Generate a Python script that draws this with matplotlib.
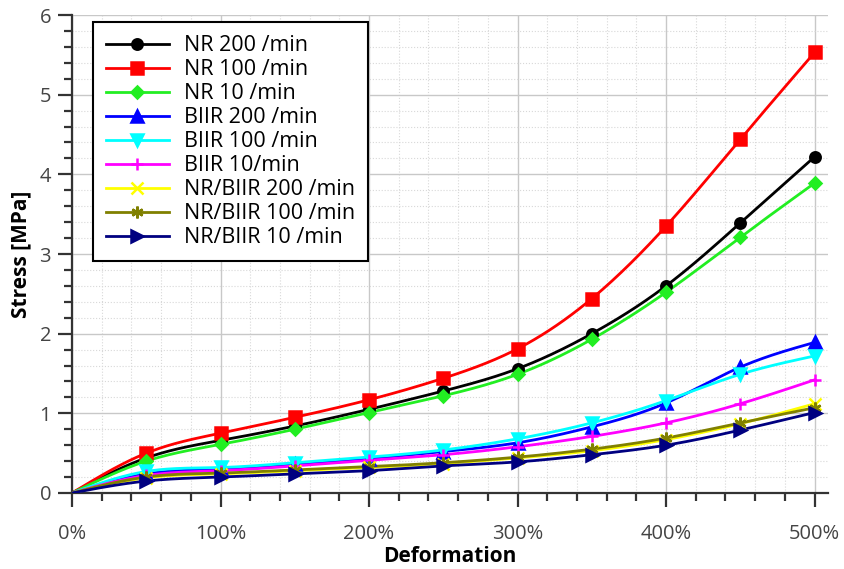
import numpy as np
import matplotlib
matplotlib.use("Agg")
import matplotlib.pyplot as plt
from matplotlib.ticker import MultipleLocator, FuncFormatter

plt.rcParams['font.family'] = ['Open Sans', 'DejaVu Sans']

deformation = [0, 50, 100, 150, 200, 250, 300, 350, 400, 450, 500]

nr_200 = [0, 0.44, 0.66, 0.84, 1.05, 1.28, 1.56, 2.00, 2.60, 3.39, 4.22]
nr_100 = [0, 0.50, 0.75, 0.95, 1.17, 1.44, 1.81, 2.44, 3.35, 4.44, 5.53]
nr_10 = [0, 0.40, 0.61, 0.80, 1.01, 1.22, 1.49, 1.93, 2.52, 3.21, 3.89]
biir_200 = [0, 0.24, 0.30, 0.36, 0.43, 0.52, 0.63, 0.83, 1.13, 1.58, 1.89]
biir_100 = [0, 0.27, 0.32, 0.38, 0.45, 0.54, 0.68, 0.88, 1.16, 1.49, 1.72]
biir_10 = [0, 0.22, 0.28, 0.34, 0.41, 0.48, 0.58, 0.71, 0.88, 1.12, 1.42]
blend_200 = [0, 0.19, 0.24, 0.28, 0.32, 0.37, 0.44, 0.53, 0.67, 0.87, 1.12]
blend_100 = [0, 0.20, 0.25, 0.29, 0.33, 0.38, 0.45, 0.55, 0.69, 0.88, 1.07]
blend_10 = [0, 0.15, 0.20, 0.24, 0.28, 0.34, 0.39, 0.48, 0.60, 0.79, 1.01]

labels = ['NR 200 /min', 'NR 100 /min', 'NR 10 /min',
          'BIIR 200 /min', 'BIIR 100 /min', 'BIIR 10/min',
          'NR/BIIR 200 /min', 'NR/BIIR 100 /min', 'NR/BIIR 10 /min']
series = [nr_200, nr_100, nr_10, biir_200, biir_100, biir_10,
          blend_200, blend_100, blend_10]
colors = ['#000000', '#ff0000', '#22ee22', '#0000ff', '#00ffff',
          '#ff00ff', '#ffff00', '#808000', '#000080']
markers = ['o', 's', 'D', '^', 'v', '+', 'x', (6, 2, 0), '>']
msizes = [7.5, 8.5, 6, 8.5, 8.5, 9, 8.5, 8.5, 8.5]


def smooth(x, y, n=40):
    # natural cubic spline, only used to draw the line between the points
    x = np.asarray(x, float)
    y = np.asarray(y, float)
    k = len(x)
    h = np.diff(x)
    A = np.zeros((k, k))
    b = np.zeros(k)
    A[0, 0] = A[-1, -1] = 1
    for i in range(1, k - 1):
        A[i, i - 1] = h[i - 1]
        A[i, i] = 2 * (h[i - 1] + h[i])
        A[i, i + 1] = h[i]
        b[i] = 6 * ((y[i + 1] - y[i]) / h[i] - (y[i] - y[i - 1]) / h[i - 1])
    m = np.linalg.solve(A, b)
    xs, ys = [], []
    for i in range(k - 1):
        t = np.linspace(x[i], x[i + 1], n, endpoint=False)
        a = x[i + 1] - t
        c = t - x[i]
        s = (m[i] * a ** 3 + m[i + 1] * c ** 3) / (6 * h[i]) \
            + (y[i] / h[i] - m[i] * h[i] / 6) * a \
            + (y[i + 1] / h[i] - m[i + 1] * h[i] / 6) * c
        xs.append(t)
        ys.append(s)
    xs.append([x[-1]])
    ys.append([y[-1]])
    return np.concatenate(xs), np.concatenate(ys)


fig = plt.figure(figsize=(8.44, 5.69), dpi=100)
ax = fig.add_axes([0.0853, 0.1336, 0.8957, 0.84])

for ys, lab, col, mk, ms in zip(series, labels, colors, markers, msizes):
    sx, sy = smooth(deformation, ys)
    ax.plot(sx, sy, color=col, lw=2.0, zorder=3)
    # no marker at the origin, as in the original
    ax.plot(deformation[1:], ys[1:], linestyle='none', marker=mk, color=col,
            markersize=ms, mew=1.8, zorder=4)
    ax.plot([], [], color=col, lw=2.0, marker=mk, markersize=ms, mew=1.8,
            label=lab)

ax.set_xlim(0, 509)
ax.set_ylim(0, 6)
ax.xaxis.set_major_locator(MultipleLocator(100))
ax.xaxis.set_minor_locator(MultipleLocator(20))
ax.yaxis.set_major_locator(MultipleLocator(1))
ax.yaxis.set_minor_locator(MultipleLocator(0.2))
ax.xaxis.set_major_formatter(FuncFormatter(lambda v, p: f'{v:.0f}%'))

ax.grid(which='major', color='#c8c8c8', lw=1, zorder=0)
ax.grid(which='minor', color='#d8d8d8', lw=0.8, ls=':', zorder=0)
ax.set_axisbelow(True)

for s in ['top', 'right']:
    ax.spines[s].set_visible(False)
for s in ['left', 'bottom']:
    ax.spines[s].set_color('#333333')
    ax.spines[s].set_linewidth(1.6)

ax.tick_params(which='major', length=10, width=1.6, color='#333333',
               labelsize=14.5, labelcolor='#444444', pad=5)
ax.tick_params(which='minor', length=6, width=1.6, color='#333333')
ax.tick_params(axis='x', pad=12)

ax.set_xlabel('Deformation', fontsize=15, fontweight='bold', labelpad=2)
ax.set_ylabel('Stress [MPa]', fontsize=15, fontweight='bold', labelpad=6)

leg = ax.legend(loc='upper left', bbox_to_anchor=(0.028, 0.985),
                borderaxespad=0, fontsize=15.5, frameon=True, fancybox=False,
                edgecolor='black', framealpha=1, labelspacing=0.14,
                handlelength=2.9, handletextpad=0.7, borderpad=0.6)
leg.get_frame().set_linewidth(1.5)

fig.savefig('out.png', dpi=100)
